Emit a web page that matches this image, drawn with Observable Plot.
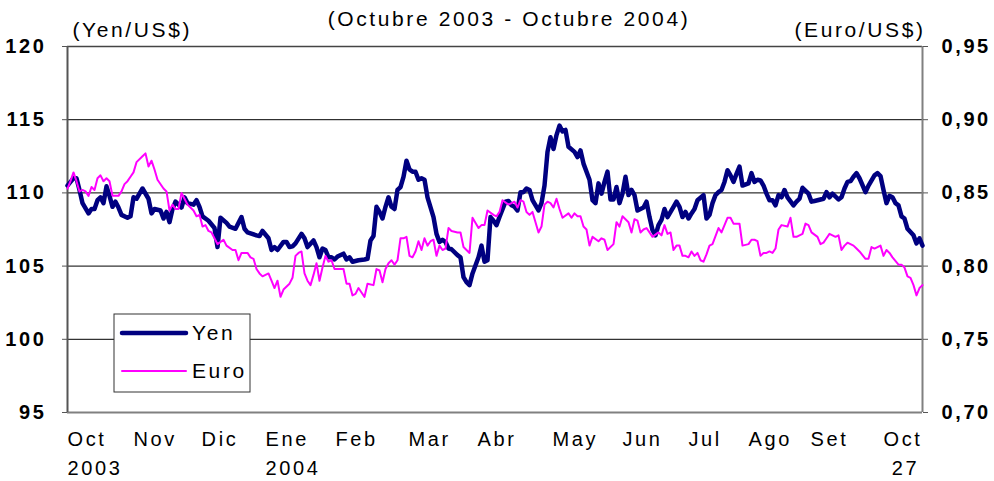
<!DOCTYPE html>
<html><head><meta charset="utf-8">
<script src="https://cdn.jsdelivr.net/npm/d3@7"></script>
<script src="https://cdn.jsdelivr.net/npm/@observablehq/plot@0.6"></script>
<style>
html,body{margin:0;padding:0;background:#fff;}
#chart{width:994px;height:481px;overflow:hidden;}
#chart svg text{letter-spacing:2.6px;}
</style></head><body><div id="chart"></div>
<script>
// Trading-day index (0 = start of October 2003, 285 = 27 October 2004)
const yenDay = [0,1,2,3,4,5,7,8,9,10,11,12,13,14,15,16,17,18,20,21,22,23,24,25,27,28,29,31,32,33,34,35,36,37,38,39,40,42,43,44,45,47,49,50,51,53,54,56,58,59,60,63,64,65,67,68,69,70,72,73,74,75,76,78,79,80,82,83,84,85,86,87,88,89,90,92,93,94,95,97,99,100,101,102,103,104,105,106,107,108,109,110,111,112,113,114,115,116,117,118,119,120,122,123,124,125,126,127,128,130,131,132,133,134,135,137,138,139,140,141,142,143,144,146,147,148,149,150,151,152,153,154,155,157,158,159,160,161,162,163,164,165,166,167,169,170,171,172,174,175,176,177,178,179,180,181,182,183,184,185,186,187,188,189,190,192,193,194,195,196,197,198,199,200,202,203,204,205,206,207,208,209,210,212,213,214,215,216,217,218,219,220,221,222,223,224,225,227,228,229,230,231,232,233,234,235,236,237,238,239,240,242,243,244,245,247,248,249,250,252,253,254,255,257,258,259,260,261,262,263,264,266,267,269,270,271,272,273,274,275,276,277,278,279,280,282,283,284,285];
const yenValue = [110.5,110.75,111.0,111.0,110.2,109.3,108.6,108.9,108.9,109.5,109.7,109.3,110.45,109.8,109.05,109.4,109.0,108.5,108.3,108.4,109.7,109.6,109.95,110.3,109.6,108.6,108.9,108.8,108.25,108.7,108.0,108.9,109.4,109.2,109.0,109.7,109.3,109.2,109.5,109.05,108.4,108.1,107.6,106.3,108.3,107.95,107.7,107.55,108.35,107.55,107.3,107.1,107.05,107.4,106.9,106.1,106.3,106.1,106.65,106.65,106.3,106.35,106.55,107.2,106.9,106.3,106.75,106.3,105.6,106.2,106.1,105.6,105.6,105.45,105.65,105.85,105.45,105.6,105.3,105.4,105.45,105.5,106.75,107.05,109.05,108.7,108.25,109.05,109.7,109.05,108.9,110.2,110.4,111.1,112.2,111.6,111.45,111.45,110.9,111.0,110.9,109.7,108.35,107.2,106.65,106.8,106.65,106.2,106.15,105.75,105.6,104.25,103.9,103.7,104.5,105.6,106.4,105.3,105.4,108.35,108.1,107.8,108.35,109.4,109.45,109.15,109.05,108.8,110.05,110.05,110.3,110.2,109.5,108.8,109.3,110.5,112.8,113.8,113.0,113.95,114.6,114.2,114.3,113.15,112.8,112.45,112.9,112.0,110.9,109.5,109.3,110.65,109.95,110.75,111.45,109.55,109.55,110.4,109.3,109.95,111.1,109.85,110.2,109.85,108.8,109.0,109.4,108.35,107.45,107.1,107.8,108.15,108.9,108.35,109.05,109.4,109.05,108.35,108.7,108.25,108.6,108.9,109.5,109.85,108.25,108.5,109.3,109.85,110.05,110.2,110.75,111.55,111.2,110.75,111.3,111.8,110.5,110.65,111.35,110.75,110.9,110.85,110.5,109.95,109.5,109.5,109.15,109.85,109.7,110.2,109.7,109.15,109.4,109.6,110.35,109.95,109.4,109.45,109.5,109.6,110.05,109.7,109.95,109.55,109.7,110.3,110.75,110.8,111.1,111.35,111.0,110.05,110.5,111.2,111.35,111.15,110.2,109.3,109.8,109.7,109.3,109.15,108.4,108.25,107.55,107.1,106.55,106.9,106.4];
const euroDay = [0,1,2,3,4,5,6,7,8,9,10,11,12,13,14,15,17,18,19,20,21,22,23,25,26,27,28,29,30,32,33,34,35,36,37,38,39,40,42,43,44,45,46,47,48,50,52,53,55,56,57,58,60,61,62,63,64,65,67,68,69,70,71,72,74,75,76,77,78,79,80,81,82,83,84,85,86,87,88,89,90,92,93,94,95,96,97,98,99,100,102,103,104,105,106,107,108,109,110,111,112,113,114,115,116,117,118,119,120,121,122,123,124,125,126,127,128,130,131,132,134,135,137,138,139,140,142,143,144,145,147,148,149,150,151,152,153,154,155,157,158,159,160,161,162,163,164,165,167,168,169,170,171,172,173,174,175,177,178,179,180,182,183,184,185,187,188,189,190,191,192,193,194,195,197,198,199,200,201,202,203,204,205,206,207,208,209,210,211,212,213,214,215,217,218,219,220,221,222,224,225,227,228,229,230,231,232,233,234,235,236,237,238,240,241,242,243,245,246,247,248,250,251,252,253,254,256,257,258,259,260,262,263,264,266,267,268,269,271,272,273,274,275,277,278,279,280,281,282,283,284,285];
const euroValue = [0.853,0.858,0.864,0.858,0.851,0.852,0.851,0.848,0.854,0.852,0.860,0.862,0.858,0.860,0.858,0.848,0.848,0.851,0.856,0.858,0.861,0.864,0.871,0.875,0.877,0.868,0.872,0.866,0.859,0.853,0.851,0.838,0.842,0.839,0.839,0.850,0.846,0.842,0.838,0.834,0.835,0.827,0.828,0.824,0.823,0.815,0.818,0.814,0.811,0.811,0.804,0.809,0.809,0.806,0.805,0.798,0.795,0.793,0.795,0.790,0.785,0.790,0.779,0.784,0.788,0.792,0.807,0.809,0.810,0.795,0.790,0.787,0.794,0.802,0.790,0.799,0.807,0.803,0.804,0.798,0.798,0.798,0.788,0.788,0.780,0.781,0.785,0.782,0.779,0.788,0.787,0.798,0.797,0.789,0.798,0.802,0.804,0.801,0.804,0.819,0.819,0.820,0.807,0.806,0.810,0.817,0.811,0.819,0.814,0.817,0.818,0.807,0.814,0.811,0.812,0.826,0.824,0.823,0.823,0.813,0.809,0.833,0.826,0.828,0.828,0.838,0.835,0.834,0.837,0.845,0.842,0.843,0.844,0.840,0.845,0.844,0.837,0.835,0.837,0.823,0.827,0.842,0.844,0.843,0.840,0.846,0.839,0.833,0.836,0.833,0.836,0.834,0.834,0.827,0.825,0.814,0.820,0.817,0.819,0.818,0.811,0.815,0.830,0.827,0.834,0.830,0.823,0.832,0.831,0.823,0.825,0.826,0.823,0.820,0.823,0.821,0.828,0.822,0.823,0.811,0.814,0.814,0.807,0.807,0.806,0.810,0.807,0.809,0.804,0.803,0.808,0.814,0.815,0.826,0.823,0.828,0.833,0.833,0.829,0.829,0.814,0.815,0.818,0.818,0.817,0.807,0.809,0.809,0.810,0.809,0.812,0.825,0.828,0.827,0.833,0.820,0.820,0.822,0.829,0.828,0.823,0.820,0.815,0.816,0.819,0.822,0.820,0.821,0.811,0.814,0.816,0.814,0.812,0.810,0.805,0.805,0.813,0.812,0.814,0.807,0.811,0.809,0.806,0.801,0.801,0.799,0.793,0.792,0.787,0.780,0.785,0.787];
const monthDay = [0,22,44.7,66,89.3,113.7,136.7,161.7,185,207,227,247.7,272];
const monthLabel = ["Oct\n2003","Nov","Dic","Ene\n2004","Feb","Mar","Abr","May","Jun","Jul","Ago","Set","Oct\n\u00a027"];
const yenTicks = [95,100,105,110,115,120];
const euroTickLabels = ["0,70","0,75","0,80","0,85","0,90","0,95"];
const seriesNames = ["Yen","Euro"];
const seriesColors = ["#000080","#ff00ff"];
const subtitle = "(Octubre 2003 - Octubre 2004)";
const leftUnit = "(Yen/US$)";
const rightUnit = "(Euro/US$)";

// The euro axis (0.70–0.95) is aligned with the yen axis (95–120)
const euroToYenScale = e => (e - 0.70) * 100 + 95;
const yenRows = yenDay.map((d, i) => ({day: d, value: yenValue[i]}));
const euroRows = euroDay.map((d, i) => ({day: d, value: euroToYenScale(euroValue[i])}));
const monthRows = monthDay.map((d, i) => ({day: d, label: monthLabel[i]}));
const font = '"Liberation Sans", Arial, sans-serif';

const svg = Plot.plot({
  width: 994, height: 481,
  marginLeft: 67, marginRight: 72, marginTop: 46, marginBottom: 69,
  style: {fontFamily: font, fontSize: "21px", background: "#fff", color: "#000", overflow: "visible"},
  x: {domain: [0, 285], axis: null},
  y: {domain: [95, 120], axis: null},
  marks: [
    Plot.ruleY([100, 105, 110, 115], {stroke: "#000", strokeWidth: 1}),
    Plot.ruleY([120], {stroke: "#444", strokeWidth: 1.5}),
    Plot.ruleY([95], {stroke: "#808080", strokeWidth: 2}),
    Plot.ruleX([0], {stroke: "#555", strokeWidth: 2}),
    Plot.ruleX([285], {stroke: "#808080", strokeWidth: 2}),
    Plot.axisY({anchor: "left", ticks: yenTicks, tickSize: 5, tickPadding: 16, fontWeight: "bold", fontSize: 20, label: null, tickFormat: d => String(d), stroke: "#555"}),
    Plot.axisY({anchor: "right", ticks: yenTicks, tickSize: 5, tickPadding: 14, fontWeight: "bold", fontSize: 20, label: null, tickFormat: d => euroTickLabels[yenTicks.indexOf(d)], stroke: "#555"}),
    Plot.text(monthRows, {x: "day", text: "label", frameAnchor: "bottom", textAnchor: "start", lineAnchor: "top", dy: 13, lineHeight: 1.45, fontSize: 20}),
    Plot.text([subtitle], {frameAnchor: "top", dx: 14, dy: -27, lineAnchor: "middle", fontSize: 21}),
    Plot.text([leftUnit], {frameAnchor: "top-left", dx: 5, dy: -16, textAnchor: "start", lineAnchor: "middle", fontSize: 21}),
    Plot.text([rightUnit], {frameAnchor: "top-right", dx: 3, dy: -16, textAnchor: "end", lineAnchor: "middle", fontSize: 21}),
    Plot.line(yenRows, {x: "day", y: "value", stroke: seriesColors[0], strokeWidth: 4.5, strokeLinejoin: "round"}),
    Plot.line(euroRows, {x: "day", y: "value", stroke: seriesColors[1], strokeWidth: 2, strokeLinejoin: "round"})
  ]
});

// Legend box
const lg = d3.select(svg).append("g").attr("font-family", font).attr("font-size", 21).attr("text-anchor", "start");
lg.append("rect").attr("x", 114).attr("y", 314).attr("width", 136).attr("height", 78)
  .attr("fill", "#fff").attr("stroke", "#333").attr("stroke-width", 1);
seriesNames.forEach((name, i) => {
  const cy = 333 + i * 38;
  lg.append("line").attr("x1", 122).attr("x2", 186).attr("y1", cy).attr("y2", cy)
    .attr("stroke", seriesColors[i]).attr("stroke-width", i === 0 ? 4.5 : 2).attr("stroke-linecap", "round");
  lg.append("text").attr("x", 192).attr("y", cy).attr("dy", "0.35em").attr("fill", "#000").text(name);
});

document.getElementById("chart").appendChild(svg);
</script>
</body></html>
